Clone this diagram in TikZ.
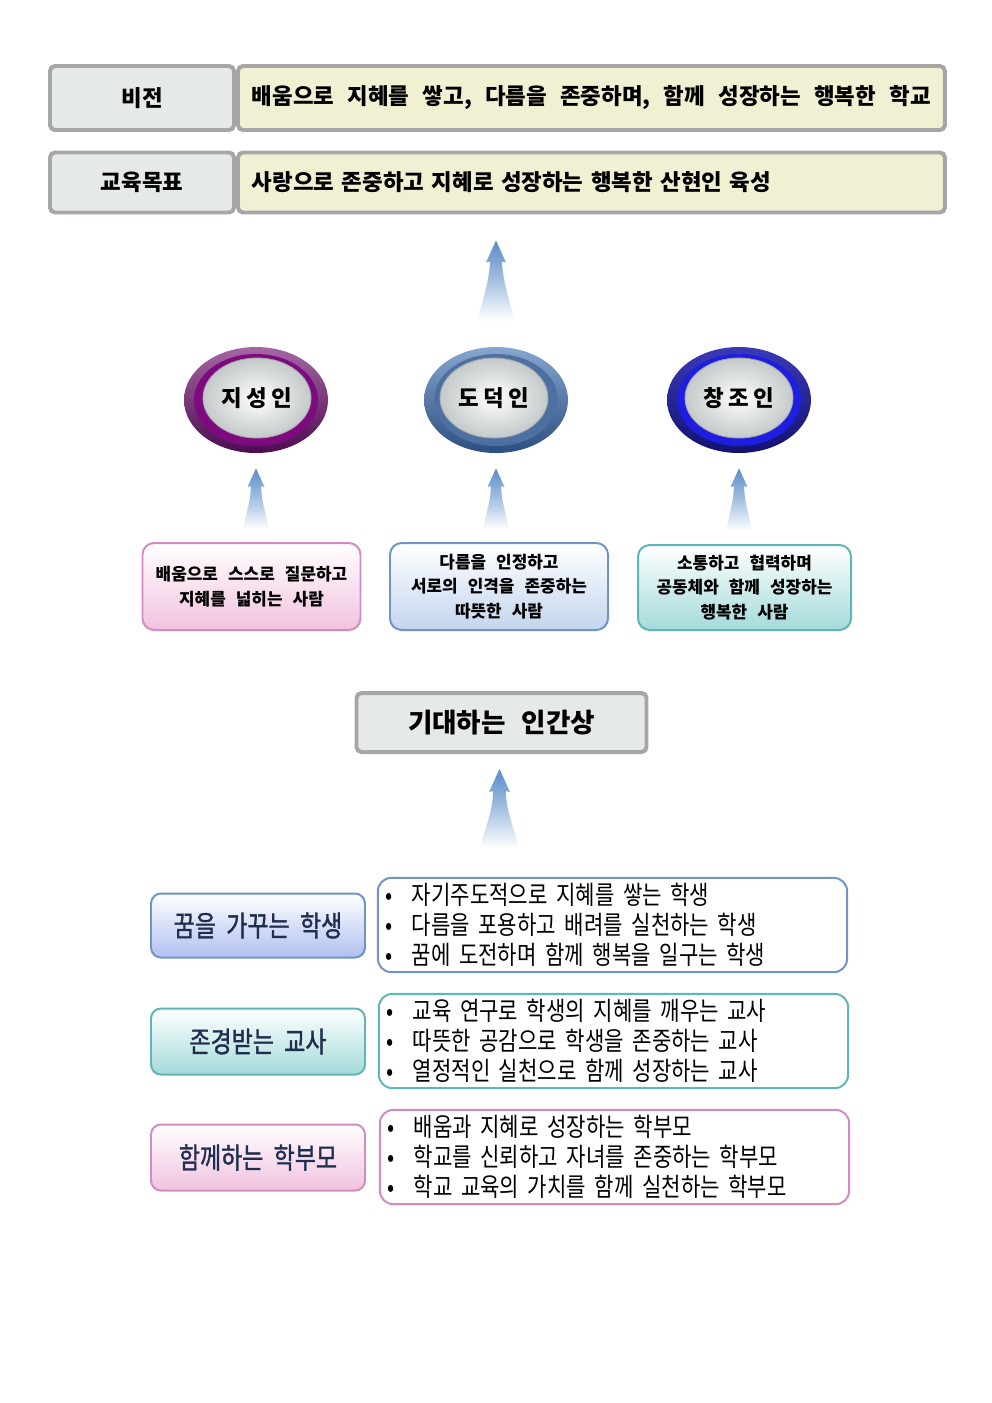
\documentclass[tikz,border=0pt]{standalone}
\usepackage{fontspec}
\newfontfamily\kr[WordSpace=2.6]{Noto Sans CJK KR}
\newfontfamily\krr[WordSpace=2,FakeStretch=0.8,FakeBold=1.2]{Noto Sans CJK KR}
\newfontfamily\krl[WordSpace=2,FakeStretch=0.82]{Noto Sans CJK KR}
\usetikzlibrary{shapes.geometric}
\usetikzlibrary{positioning}
\usetikzlibrary{calc}
\newcommand\pxu{0.2117mm}
\newcommand\bul{\makebox[15.6pt][l]{•}}
\definecolor{frameGray}{HTML}{A6A6A6}
\definecolor{cellGray}{HTML}{E6EAE6}
\definecolor{cellCream}{HTML}{F2F0D2}
\definecolor{riseBlue}{HTML}{5A8CC8}
\definecolor{jiTop}{HTML}{A466A4}
\definecolor{jiBot}{HTML}{4E0B50}
\definecolor{jiBand}{HTML}{7E0A80}
\definecolor{doTop}{HTML}{86A6CF}
\definecolor{doBot}{HTML}{2C4E7E}
\definecolor{doBand}{HTML}{4C70A2}
\definecolor{chTop}{HTML}{3A3AB8}
\definecolor{chBot}{HTML}{121270}
\definecolor{chBand}{HTML}{1E1EE0}
\definecolor{knobGray}{HTML}{C4C9C9}
\definecolor{pinkLine}{HTML}{D58BC0}
\definecolor{pinkFill}{HTML}{F1C2DF}
\definecolor{blueLine}{HTML}{6E94C8}
\definecolor{blueFill}{HTML}{C3D5EE}
\definecolor{tealLine}{HTML}{5EB6B6}
\definecolor{tealFill}{HTML}{A4DADA}
\definecolor{navyText}{HTML}{1F2D4F}
\tikzset{
  headcell/.style={draw=frameGray, line width=2.4pt, rounded corners=3pt, fill=cellGray,
    minimum width=184*\pxu, minimum height=64*\pxu, inner sep=0pt,
    font=\kr\bfseries\fontsize{13.5pt}{16pt}\selectfont},
  bodycell/.style={headcell, fill=cellCream, text width=409pt, inner xsep=8.4pt, align=left},
  ring/.style={ellipse, minimum width=144*\pxu, minimum height=106*\pxu, inner sep=0pt},
  band/.style={ellipse, minimum width=124*\pxu, minimum height=92*\pxu, inner sep=0pt},
  knob/.style={ellipse, minimum width=108*\pxu, minimum height=80*\pxu, inner sep=0pt,
    draw=gray!70, line width=0.5pt, inner color=white, outer color=knobGray,
    font=\kr\bfseries\fontsize{13.5pt}{15pt}\selectfont},
  personbox/.style={rounded corners=7pt, line width=1.2pt, minimum width=218*\pxu,
    minimum height=87*\pxu, align=center, top color=white,
    font=\kr\bfseries\fontsize{10.2pt}{14.8pt}\selectfont},
  humanbox/.style={headcell, minimum width=290*\pxu, minimum height=59*\pxu,
    font=\kr\bfseries\fontsize{16pt}{18pt}\selectfont},
  rolebox/.style={rounded corners=6pt, line width=1.2pt, minimum width=214*\pxu,
    minimum height=64*\pxu, top color=white, text=navyText,
    font=\krr\fontsize{17.3pt}{19pt}\selectfont},
  listbox/.style={rounded corners=8pt, line width=1.2pt, fill=white, text width=273pt,
    inner xsep=4.8pt, minimum height=88*\pxu, align=left,
    font=\krl\fontsize{15.5pt}{18pt}\selectfont},
  riser/.style={top color=riseBlue, bottom color=white, middle color=riseBlue!55, draw=none}
}
% #1 half head, #2 half tail, #3 tail, #4 tip
\newcommand\riser[4]{%
  \shade[riser] (#4) -- ($(#4)+(#1,2.2*#1)$) -- ($(#4)+(0.6*#1,2.1*#1)$)
    .. controls ($(#4)+(0.65*#1,4*#1)$) and ($(#3)+(0.7*#2,-20)$) .. ($(#3)+(#2,0)$)
    -- ($(#3)+(-#2,0)$)
    .. controls ($(#3)+(-0.7*#2,-20)$) and ($(#4)+(-0.65*#1,4*#1)$) .. ($(#4)+(-0.6*#1,2.1*#1)$)
    -- ($(#4)+(-#1,2.2*#1)$) -- cycle;}

\begin{document}
\begin{tikzpicture}[x=0.2117mm, y=-0.2117mm]
  \useasboundingbox (0,0) rectangle (992,1403);

  % vision and goal
  \node[headcell] (visionL) at (142,98) {비전};
  \node[bodycell, right=0pt of visionL] (visionR) {\mbox{\spaceskip=8pt\relax 배움으로 지혜를 쌓고, 다름을 존중하며, 함께 성장하는 행복한 학교}};
  \node[headcell, minimum height=60*\pxu] (goalL) at (142,182.5) {교육목표};
  \node[bodycell, minimum height=60*\pxu, right=0pt of goalL] (goalR) {사랑으로 존중하고 지혜로 성장하는 행복한 산현인 육성};

  % three figures
  \node[ring, top color=jiTop, bottom color=jiBot] (jiseong) at (256,400) {};
  \node[band, fill=jiBand] (jiseong-b) at (jiseong) {};
  \node[knob] (jiseong-k) at ($(jiseong)+(1,-2)$) {지\hspace{2.5pt}성\hspace{2.5pt}인};

  \node[ring, top color=doTop, bottom color=doBot] (dodeok) at (496,400) {};
  \node[band, fill=doBand] (dodeok-b) at (dodeok) {};
  \node[knob] (dodeok-k) at ($(dodeok)+(-2,-2)$) {도\hspace{2.5pt}덕\hspace{2.5pt}인};

  \node[ring, top color=chTop, bottom color=chBot] (changjo) at (739,400) {};
  \node[band, fill=chBand] (changjo-b) at (changjo) {};
  \node[knob] (changjo-k) at ($(changjo)+(0,-2)$) {창\hspace{2.5pt}조\hspace{2.5pt}인};

  % figures -> goal
  \coordinate (up0s) at ($(dodeok.north)+(0,-26)$);
  \coordinate (up0e) at ($(dodeok.north |- goalR.south)+(0,26)$);
  \riser{10}{19}{up0s}{up0e}

  % persons
  \node[personbox, draw=pinkLine, bottom color=pinkFill] (person1) at (251.5,586.5) {배움으로 스스로 질문하고\\지혜를 넓히는 사람};
  \node[personbox, draw=blueLine, bottom color=blueFill] (person2) at (499,586.5) {다름을 인정하고\\서로의 인격을 존중하는\\따뜻한 사람};
  \node[personbox, draw=tealLine, bottom color=tealFill, minimum width=213*\pxu, minimum height=85*\pxu] (person3) at (744.5,587.5) {소통하고 협력하며\\공동체와 함께 성장하는\\행복한 사람};

  % persons -> figures
  \foreach \p/\f in {person1/jiseong, person2/dodeok, person3/changjo}{
    \coordinate (\f-s) at ($(\f.south |- \p.north)+(0,-13)$);
    \coordinate (\f-e) at ($(\f.south)+(0,15)$);
    \riser{8.5}{13}{\f-s}{\f-e}
  }

  % expected human
  \node[humanbox] (human) at (501.5,722.5) {기대하는 인간상};
  \coordinate (up4s) at ($(human.south)+(-2,94)$);
  \coordinate (up4e) at ($(human.south)+(-2,15)$);
  \riser{10.5}{20}{up4s}{up4e}

  % students, teachers, parents
  \node[rolebox, draw=blueLine, bottom color=blueFill!90!blue] (student) at (258,925.5) {꿈을 가꾸는 학생};
  \node[listbox, draw=blueLine] (studentList) at (612.5,925) {\bul 자기주도적으로 지혜를 쌓는 학생\\\bul 다름을 포용하고 배려를 실천하는 학생\\\bul 꿈에 도전하며 함께 행복을 일구는 학생};

  \node[rolebox, draw=tealLine, bottom color=tealFill, minimum height=66*\pxu] (teacher) at (258,1041.5) {존경받는 교사};
  \node[listbox, draw=tealLine] (teacherList) at (613.5,1041) {\bul 교육 연구로 학생의 지혜를 깨우는 교사\\\bul 따뜻한 공감으로 학생을 존중하는 교사\\\bul 열정적인 실천으로 함께 성장하는 교사};

  \node[rolebox, draw=pinkLine, bottom color=pinkFill, minimum height=66*\pxu] (parent) at (258,1157.5) {함께하는 학부모};
  \node[listbox, draw=pinkLine] (parentList) at (614.5,1157) {\bul 배움과 지혜로 성장하는 학부모\\\bul 학교를 신뢰하고 자녀를 존중하는 학부모\\\bul 학교 교육의 가치를 함께 실천하는 학부모};
\end{tikzpicture}
\end{document}
